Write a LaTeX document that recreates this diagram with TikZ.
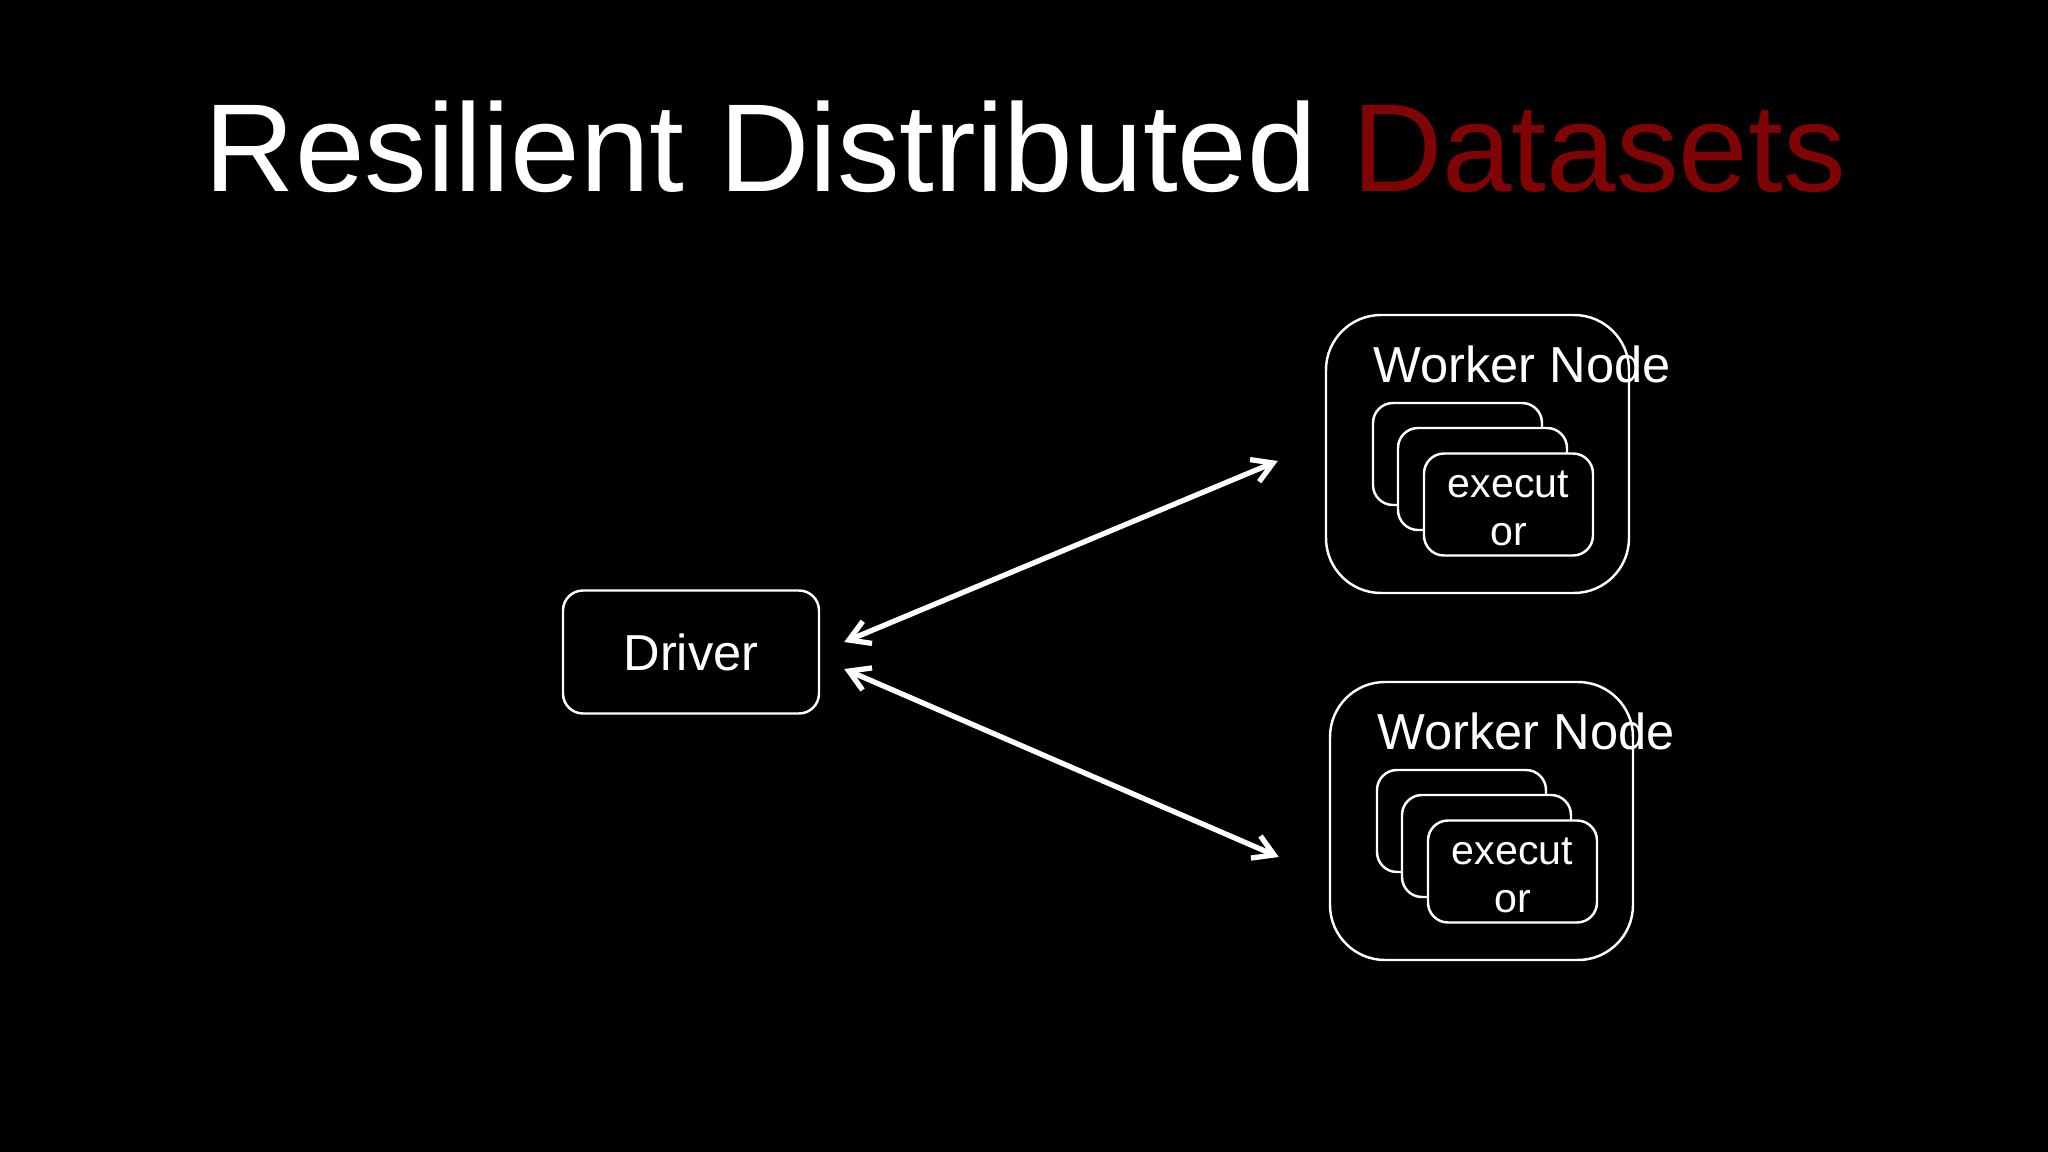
\documentclass[tikz,border=0pt]{standalone}
\usepackage{fontspec}
\setmainfont{Liberation Sans}
\usetikzlibrary{arrows.meta}
\definecolor{datared}{RGB}{128,4,4}

\begin{document}
\begin{tikzpicture}[
  box/.style={draw=white,line width=0.7pt,rounded corners=0.2cm,fill=black,text=white},
  worker/.style={draw=white,line width=0.7pt,rounded corners=0.55cm,minimum width=3.03cm,minimum height=2.78cm},
  execbox/.style={box,minimum width=1.69cm,minimum height=1.02cm,inner sep=0pt},
  label/.style={text=white,inner sep=0pt,anchor=base west,font=\fontsize{14.4}{17}\selectfont},
  link/.style={white,line width=1.5pt,line cap=round,
    {Straight Barb[length=2mm,width=2.4mm]}-{Straight Barb[length=2mm,width=2.4mm]}}
 ]
 % slide background
 \fill[black] (0,0) rectangle (20.48,-11.52);
 \node[anchor=base west,inner sep=0pt,text=white,font=\fontsize{35.6}{40}\selectfont] (title) at (2.04,-1.92)
   {Resilient Distributed \textcolor{datared}{Datasets}};

 % driver
 \node[box,minimum width=2.56cm,minimum height=1.23cm,font=\fontsize{14.4}{17}\selectfont] (driver) at (6.91,-6.52) {Driver};

 % worker nodes
 \node[worker] (w1) at (14.775,-4.54) {};
 \node[worker] (w2) at (14.815,-8.21) {};
 \node[label] (w1label) at ([shift={(0.48,-0.69)}]w1.north west) {Worker Node};
 \node[label] (w2label) at ([shift={(0.48,-0.69)}]w2.north west) {Worker Node};

 % executors, back to front
 \node[execbox] (e11) at ([shift={(-0.2,0)}]w1.center) {};
 \node[execbox] (e12) at ([shift={(0.05,-0.25)}]w1.center) {};
 \node[execbox,align=center,font=\fontsize{11.7}{13.66}\selectfont] (e13) at ([shift={(0.31,-0.505)}]w1.center) {\rule{0pt}{9.8pt}execut\\or};
 \node[execbox] (e21) at ([shift={(-0.2,0)}]w2.center) {};
 \node[execbox] (e22) at ([shift={(0.05,-0.25)}]w2.center) {};
 \node[execbox,align=center,font=\fontsize{11.7}{13.66}\selectfont] (e23) at ([shift={(0.31,-0.505)}]w2.center) {\rule{0pt}{9.8pt}execut\\or};

 % links
 \draw[link] ([shift={(0.24,0.10)}]driver.east) -- ([shift={(-0.47,-0.07)}]w1.west);
 \draw[link] ([shift={(0.24,-0.17)}]driver.east) -- ([shift={(-0.50,-0.36)}]w2.west);
\end{tikzpicture}
\end{document}
